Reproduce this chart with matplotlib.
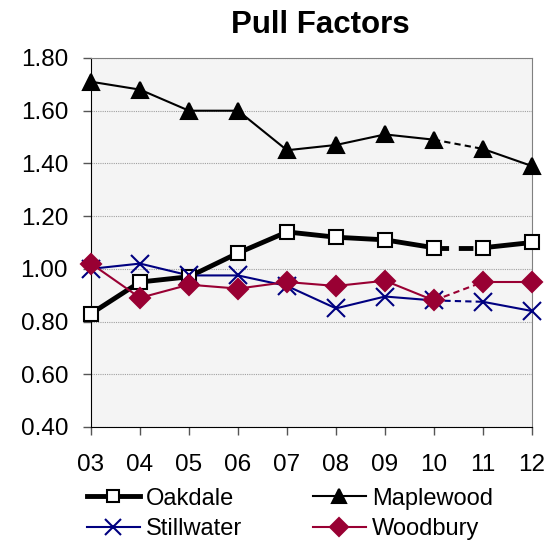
import matplotlib.pyplot as plt
from matplotlib.lines import Line2D

plt.rcParams["font.family"] = ["Liberation Sans", "DejaVu Sans"]

years = ["03", "04", "05", "06", "07", "08", "09", "10", "11", "12"]
oakdale = [0.83, 0.95, 0.97, 1.06, 1.14, 1.12, 1.11, 1.08, 1.08, 1.10]
maplewood = [1.71, 1.68, 1.60, 1.60, 1.45, 1.47, 1.51, 1.49, 1.455, 1.39]
stillwater = [1.00, 1.02, 0.975, 0.975, 0.935, 0.85, 0.895, 0.88, 0.875, 0.84]
woodbury = [1.02, 0.89, 0.94, 0.925, 0.95, 0.935, 0.955, 0.88, 0.95, 0.95]

series = [
    # name, values, color, linewidth, marker, markersize, face
    ("Oakdale", oakdale, "black", 3.5, "s", 10, "white"),
    ("Maplewood", maplewood, "black", 1.5, "^", 11, "black"),
    ("Stillwater", stillwater, "#000080", 1.5, "x", 13, "#000080"),
    ("Woodbury", woodbury, "#990033", 1.5, "D", 10.5, "#990033"),
]

fig = plt.figure(figsize=(5.56, 5.40), dpi=100)
ax = fig.add_axes([0.1637, 0.2093, 0.7931, 0.6833])
ax.set_facecolor("#f4f4f4")

x = list(range(len(years)))
handles = {}
for name, vals, col, lw, mk, ms, face in series:
    # solid through 10, dashed 10-11, solid 11-12
    ax.plot(x[:8], vals[:8], color=col, lw=lw, zorder=3)
    ax.plot(x[7:9], vals[7:9], color=col, lw=lw, ls=(0, (3, 2)), zorder=3)
    ax.plot(x[8:], vals[8:], color=col, lw=lw, zorder=3)
    ax.plot(x, vals, ls="none", marker=mk, ms=ms, markerfacecolor=face,
            markeredgecolor=col, markeredgewidth=1.5, zorder=4, clip_on=False)
    handles[name] = Line2D([], [], color=col, lw=lw, marker=mk, ms=ms * 0.9,
                           markerfacecolor=face, markeredgecolor=col,
                           markeredgewidth=1.5, label=name)

ax.set_xlim(0, 9)
ax.set_ylim(0.40, 1.80)
ax.set_xticks(x)
ax.set_xticklabels(years)
yt = [0.40, 0.60, 0.80, 1.00, 1.20, 1.40, 1.60, 1.80]
ax.set_yticks(yt)
ax.set_yticklabels([f"{v:.2f}" for v in yt])
ax.tick_params(labelsize=17.5, direction="out", length=5.5, width=1,
               color="#555555")
ax.tick_params(axis="y", pad=11)
ax.tick_params(axis="x", pad=14)
ax.yaxis.grid(True, color="#a0a0a0", ls=(0, (1, 1)), lw=0.8)
ax.set_axisbelow(True)
ax.spines["left"].set_color("black")
ax.spines["bottom"].set_color("black")
ax.spines["top"].set_color("#808080")
ax.spines["right"].set_color("#808080")

fig.text(0.576, 0.953, "Pull Factors", ha="center", va="center",
         fontsize=22.5, fontweight="bold")

# row-wise order: Oakdale, Maplewood / Stillwater, Woodbury
order = ["Oakdale", "Stillwater", "Maplewood", "Woodbury"]
fig.legend(handles=[handles[n] for n in order], ncol=2, loc="upper left",
           bbox_to_anchor=(0.156, 0.097), frameon=False, fontsize=17,
           handlelength=2.25, handletextpad=0.25, columnspacing=3.0,
           labelspacing=0.36, borderpad=0, borderaxespad=0)

plt.savefig("out.png", dpi=100)
